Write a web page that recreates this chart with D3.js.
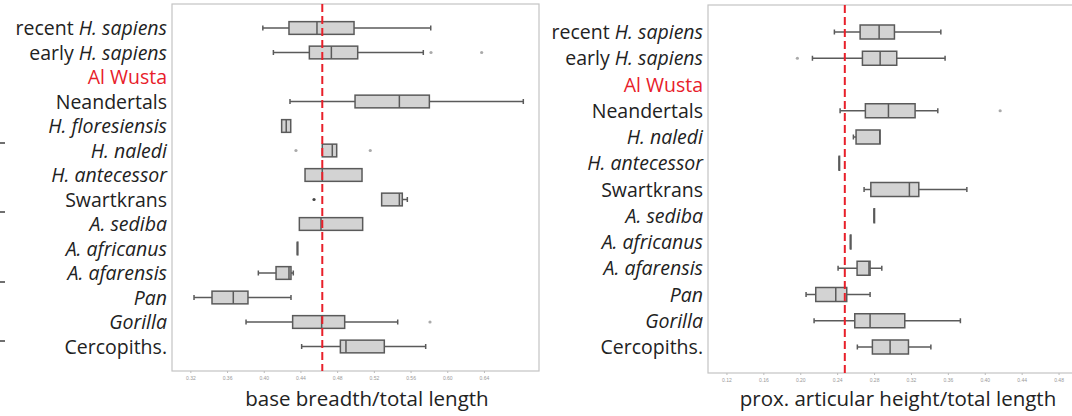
<!DOCTYPE html>
<html>
<head>
<meta charset="utf-8">
<script src="https://cdn.jsdelivr.net/npm/d3@7"></script>
<style>
  body { margin: 0; background: #fff; }
  svg { display: block; font-family: "Open Sans", Lato, sans-serif; }
</style>
</head>
<body>
<script>
// taxa, italic parts wrapped in _..._
const leftTaxa = ["recent _H. sapiens_", "early _H. sapiens_", "Al Wusta", "Neandertals", "_H. floresiensis_",
  "_H. naledi_", "_H. antecessor_", "Swartkrans", "_A. sediba_", "_A. africanus_", "_A. afarensis_",
  "_Pan_", "_Gorilla_", "Cercopiths."];
const rightTaxa = ["recent _H. sapiens_", "early _H. sapiens_", "Al Wusta", "Neandertals", "_H. naledi_",
  "_H. antecessor_", "Swartkrans", "_A. sediba_", "_A. africanus_", "_A. afarensis_",
  "_Pan_", "_Gorilla_", "Cercopiths."];

// [low whisker, Q1, median, Q3, high whisker], null = no box
const leftStats = [
  [0.399, 0.4275, 0.458, 0.4984, 0.582],
  [0.4105, 0.4497, 0.4737, 0.5024, 0.5739],
  null,
  [0.4286, 0.4995, 0.5478, 0.5805, 0.6829],
  [0.4195, 0.4195, 0.4245, 0.4294, 0.4294],
  [0.4638, 0.4638, 0.4747, 0.4795, 0.4795],
  [0.445, 0.445, 0.4638, 0.5071, 0.5071],
  [0.5285, 0.5285, 0.5478, 0.551, 0.5565],
  [0.4388, 0.4388, 0.4624, 0.5078, 0.5078],
  [0.4366, 0.4366, 0.4366, 0.4366, 0.4366],
  [0.3941, 0.4134, 0.4275, 0.4297, 0.4322],
  [0.324, 0.3436, 0.3668, 0.3828, 0.4297],
  [0.3807, 0.4315, 0.4631, 0.4882, 0.546],
  [0.4413, 0.4835, 0.4896, 0.5314, 0.5765]
];
const leftOutliers = [[], [0.5823, 0.6375], [], [], [], [0.4351, 0.5161], [], [0.4548], [], [], [], [], [0.5812], []];
const leftAlWusta = 0.4638;

const rightStats = [
  [0.237, 0.2649, 0.2855, 0.3021, 0.3524],
  [0.2132, 0.2674, 0.2866, 0.3046, 0.357],
  null,
  [0.2432, 0.2706, 0.2956, 0.3245, 0.3491],
  [0.2576, 0.2605, 0.2862, 0.2865, 0.2865],
  [0.2421, 0.2421, 0.2421, 0.2421, 0.2421],
  [0.2692, 0.2765, 0.3183, 0.3285, 0.3806],
  [0.28, 0.28, 0.28, 0.28, 0.28],
  [0.2544, 0.2544, 0.2544, 0.2544, 0.2544],
  [0.241, 0.2616, 0.2745, 0.2757, 0.2884],
  [0.2063, 0.2168, 0.2385, 0.2504, 0.2757],
  [0.215, 0.2591, 0.2757, 0.3133, 0.3736],
  [0.2619, 0.2782, 0.2974, 0.3173, 0.3416]
];
const rightOutliers = [[], [0.1969], [], [0.4167], [], [], [], [], [], [], [], [], []];
const rightAlWusta = 0.2483;

const leftTicks = [0.32, 0.36, 0.40, 0.44, 0.48, 0.52, 0.56, 0.60, 0.64];
const rightTicks = [0.12, 0.16, 0.20, 0.24, 0.28, 0.32, 0.36, 0.40, 0.44, 0.48];
const edgeMarks = [143, 212, 282, 341];

const W = 1072, H = 416;
const svg = d3.select("body").append("svg").attr("width", W).attr("height", H);

function panel(cfg) {
  const x = d3.scaleLinear().domain(cfg.domain).range([cfg.left, cfg.right]);
  const y = d3.scalePoint().domain(d3.range(cfg.taxa.length)).range(cfg.yRange);
  const g = svg.append("g");

  // frame
  g.append("rect").attr("x", cfg.left).attr("y", cfg.top)
    .attr("width", cfg.right - cfg.left).attr("height", cfg.bottom - cfg.top)
    .attr("fill", "none").attr("stroke", "#c4c4c4").attr("stroke-width", 1.2);

  // x axis
  const ax = g.append("g").attr("transform", `translate(0,${cfg.bottom})`)
    .call(d3.axisBottom(x).tickValues(cfg.ticks).tickFormat(d3.format(".2f")).tickSize(2).tickPadding(3));
  ax.select(".domain").remove();
  ax.selectAll("line").attr("stroke", "#bbb");
  ax.selectAll("text").attr("fill", "#999").style("font-size", "5px");

  g.append("text").attr("x", cfg.labelX).attr("y", 406).attr("text-anchor", "middle")
    .attr("fill", "#222").style("font-size", "20.5px").text(cfg.title);

  // taxon labels
  cfg.taxa.forEach((t, i) => {
    const txt = g.append("text").attr("x", cfg.left - 5).attr("y", y(i)).attr("dy", "0.36em")
      .attr("text-anchor", "end").style("font-size", "19.5px")
      .attr("fill", t === "Al Wusta" ? "#e8202a" : "#222");
    t.split("_").forEach((part, k) => {
      if (part) txt.append("tspan").style("font-style", k % 2 ? "italic" : "normal").text(part);
    });
  });

  const bh = cfg.boxH;
  cfg.stats.forEach((s, i) => {
    if (!s) return;
    const cy = y(i);
    const [lo, q1, md, q3, hi] = s;
    const b = g.append("g").attr("stroke", "#5a5a5a").attr("stroke-width", 1.5);
    if (lo < q1) {
      b.append("line").attr("x1", x(lo)).attr("x2", x(q1)).attr("y1", cy).attr("y2", cy);
      b.append("line").attr("x1", x(lo)).attr("x2", x(lo)).attr("y1", cy - 2.5).attr("y2", cy + 2.5);
    }
    if (hi > q3) {
      b.append("line").attr("x1", x(q3)).attr("x2", x(hi)).attr("y1", cy).attr("y2", cy);
      b.append("line").attr("x1", x(hi)).attr("x2", x(hi)).attr("y1", cy - 2.5).attr("y2", cy + 2.5);
    }
    b.append("rect").attr("x", x(q1)).attr("y", cy - bh / 2)
      .attr("width", Math.max(x(q3) - x(q1), 0.5)).attr("height", bh)
      .attr("fill", "#d3d3d3");
    b.append("line").attr("x1", x(md)).attr("x2", x(md)).attr("y1", cy - bh / 2).attr("y2", cy + bh / 2);
  });
  cfg.outliers.forEach((o, i) => {
    g.selectAll(null).data(o).enter().append("circle")
      .attr("cx", d => x(d)).attr("cy", y(i)).attr("r", 1.6)
      .attr("fill", i === 7 && cfg.id === "L" ? "#444" : "#aaa");
  });

  // Al Wusta reference line
  g.append("line").attr("x1", x(cfg.ref)).attr("x2", x(cfg.ref))
    .attr("y1", cfg.top).attr("y2", cfg.bottom)
    .attr("stroke", "#e8202a").attr("stroke-width", 2).attr("stroke-dasharray", "8,4");
}

panel({
  id: "L", taxa: leftTaxa, stats: leftStats, outliers: leftOutliers, ref: leftAlWusta,
  domain: [0.30, 0.70], left: 172, right: 539, top: 4, bottom: 371,
  yRange: [28, 346.5], boxH: 12.7, ticks: leftTicks, labelX: 367, title: "base breadth/total length"
});
panel({
  id: "R", taxa: rightTaxa, stats: rightStats, outliers: rightOutliers, ref: rightAlWusta,
  domain: [0.10, 0.50], left: 708, right: 1077, top: 5, bottom: 373,
  yRange: [32, 347], boxH: 14, ticks: rightTicks, labelX: 898, title: "prox. articular height/total length"
});

// stray marks at the left edge
svg.selectAll(".edge").data(edgeMarks).enter().append("line")
  .attr("x1", 0).attr("x2", 5).attr("y1", d => d).attr("y2", d => d)
  .attr("stroke", "#111").attr("stroke-width", 1.2);
</script>
</body>
</html>
